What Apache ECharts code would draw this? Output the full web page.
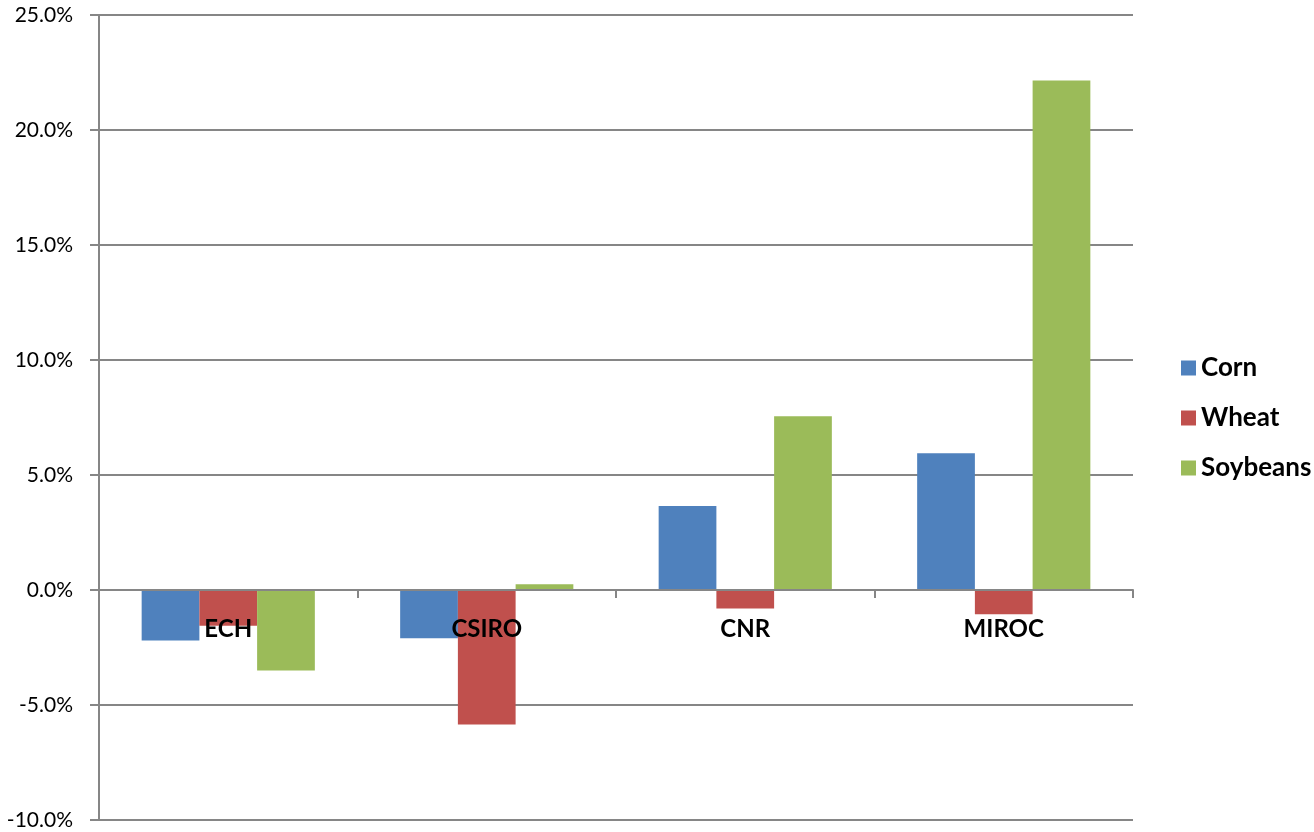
<!DOCTYPE html>
<html>
<head>
<meta charset="utf-8">
<script src="https://cdn.jsdelivr.net/npm/echarts@6/dist/echarts.min.js"></script>
<style>html,body{margin:0;padding:0;background:#fff}#c{width:1314px;height:832px}</style>
</head>
<body>
<div id="c"></div>
<script>
const categories = ['ECH', 'CSIRO', 'CNR', 'MIROC'];
const corn = [-2.2, -2.1, 3.65, 5.95];
const wheat = [-1.55, -5.85, -0.8, -1.05];
const soybeans = [-3.5, 0.25, 7.55, 22.15];
const seriesNames = ['Corn', 'Wheat', 'Soybeans'];
const colors = ['#4F81BD', '#C0504D', '#9BBB59'];

const chart = echarts.init(document.getElementById('c'), null, {renderer: 'canvas'});
const font = 'Lato, "Open Sans", sans-serif';
chart.setOption({
  animation: false,
  grid: {left: 99, right: 181, top: 15, bottom: 12, containLabel: false, outerBoundsMode: 'none'},
  legend: {
    orient: 'vertical', left: 1176, top: 350, icon: 'rect',
    itemWidth: 15, itemHeight: 15, itemGap: 24,
    textStyle: {fontFamily: font, fontSize: 26, fontWeight: 'bold', color: '#000'},
    data: seriesNames
  },
  xAxis: {
    type: 'category', data: categories, z: 5,
    axisLine: {onZero: true, lineStyle: {color: '#868686', width: 2}},
    axisTick: {show: true, length: 8, lineStyle: {color: '#868686', width: 2}},
    axisLabel: {fontFamily: font, fontSize: 24, fontWeight: 'bold', color: '#000', margin: -203}
  },
  yAxis: {
    type: 'value', min: -10, max: 25, interval: 5,
    axisLine: {show: true, lineStyle: {color: '#868686', width: 2}},
    axisTick: {show: true, length: 9, lineStyle: {color: '#868686', width: 2}},
    splitLine: {lineStyle: {color: '#868686', width: 2}},
    axisLabel: {fontFamily: font, fontSize: 21, color: '#000', margin: 26,
      formatter: v => v.toFixed(1) + '%'}
  },
  series: seriesNames.map((n, i) => ({
    name: n, type: 'bar', data: [corn, wheat, soybeans][i],
    barGap: '0%', barCategoryGap: '33%',
    itemStyle: {color: colors[i]}
  }))
});
</script>
</body>
</html>
